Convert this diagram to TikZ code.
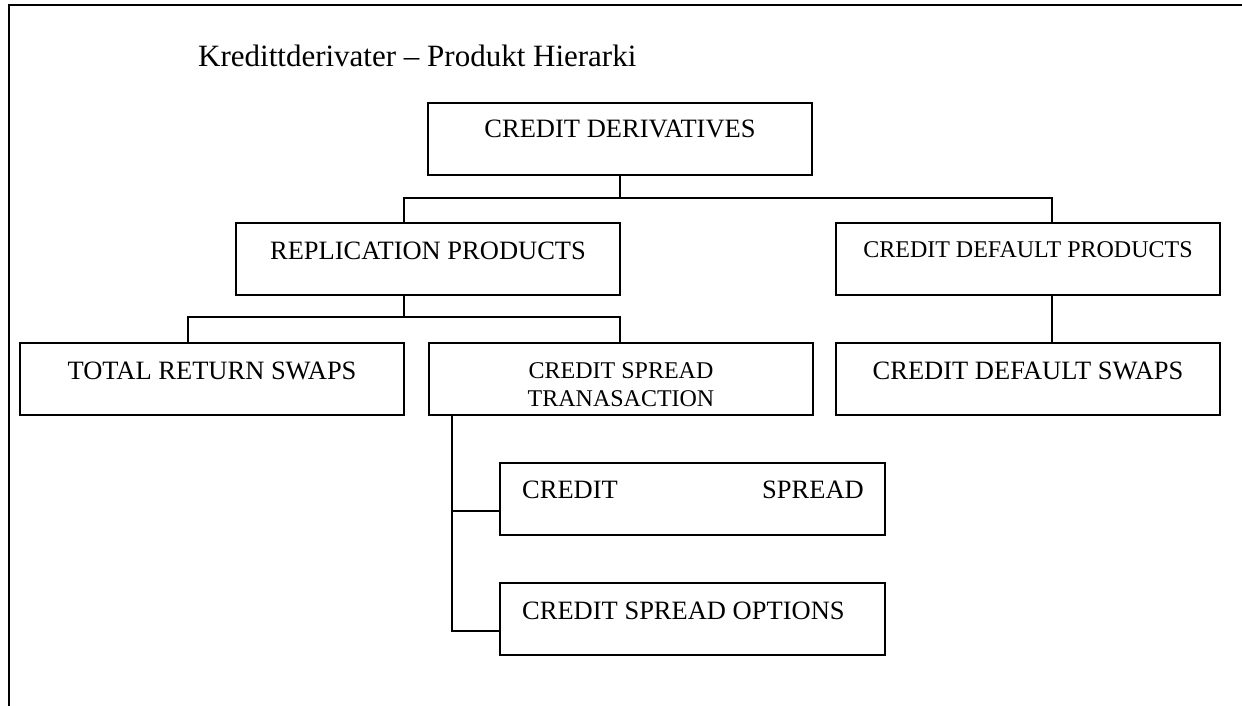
\documentclass[tikz,border=0pt]{standalone}
\usepackage{fontspec}
\setmainfont{Liberation Serif}
\begin{document}
\begin{tikzpicture}[x=1pt,y=-1pt,
  box/.style={draw, line width=1.6pt, anchor=north west, inner sep=0pt, outer sep=0pt,
              minimum width=384pt, minimum height=72pt},
  wbox/.style={box, minimum width=385pt},
  conn/.style={draw, line width=1.5pt},
  frame/.style={draw, line width=1.5pt},
  lbl/.style={inner sep=0pt, anchor=base, font=\fontsize{26.5}{30}\selectfont},
  slbl/.style={inner sep=0pt, anchor=base, font=\fontsize{24}{28}\selectfont},
  ttl/.style={inner sep=0pt, anchor=base west, font=\fontsize{31}{36}\selectfont}]
\useasboundingbox (0,0) rectangle (1242,706);
% outer frame (top and left only)
\draw[frame] (9,706) -- (9,5) -- (1242,5);
% title
\node[ttl] (title) at (198,67) {Kredittderivater -- Produkt Hierarki};
% boxes
\node[box] (cd)  at (428,103) {};
\node[box] (rep) at (236,223) {};
\node[box] (cdp) at (836,223) {};
\node[box] (trs) at (20,343) {};
\node[box] (cst) at (429,343) {};
\node[box] (cds) at (836,343) {};
\node[wbox] (cs)  at (500,463) {};
\node[wbox] (cso) at (500,583) {};
% texts
\node[lbl]  (tcd)  at ([yshift=-35pt]cd.north)  {CREDIT DERIVATIVES};
\node[lbl]  (trep) at ([yshift=-36pt]rep.north) {REPLICATION PRODUCTS};
\node[slbl] (tcdp) at ([yshift=-34pt]cdp.north) {CREDIT DEFAULT PRODUCTS};
\node[lbl]  (ttrs) at ([yshift=-36pt]trs.north) {TOTAL RETURN SWAPS};
\node[slbl] (tcst1) at ([yshift=-35pt]cst.north) {CREDIT SPREAD};
\node[slbl] (tcst2) at ([yshift=-63pt]cst.north) {TRANASACTION};
\node[lbl]  (tcds) at ([yshift=-36pt]cds.north) {CREDIT DEFAULT SWAPS};
\node[lbl, anchor=base west] (tcs1) at (522,498) {CREDIT};
\node[lbl, anchor=base east] (tcs2) at (864,498) {SPREAD};
\node[lbl, anchor=base west] (tcso) at (522,619) {CREDIT SPREAD OPTIONS};
% junction coordinates
\coordinate (j1)  at (620,198);
\coordinate (j1l) at (404,198);
\coordinate (j1r) at (1052,198);
\coordinate (j2)  at (404,317);
\coordinate (j2l) at (188,317);
\coordinate (j2r) at (620,317);
\coordinate (j3)  at (452,631);
\coordinate (j4)  at (452,511);
% connectors
\draw[conn] (cd.south) -- (cd.south |- j1);
\draw[conn] (rep.north -| j1l) -- (j1l) -- (j1r) -- (cdp.north -| j1r);
\draw[conn] (rep.south -| j2) -- (j2);
\draw[conn] (trs.north -| j2l) -- (j2l) -- (j2r) -- (cst.north -| j2r);
\draw[conn] (cdp.south -| j1r) -- (cds.north -| j1r);
\draw[conn] (cst.south -| j3) -- (j3) -- (cso.west |- j3);
\draw[conn] (j4) -- (cs.west |- j4);
\end{tikzpicture}
\end{document}
